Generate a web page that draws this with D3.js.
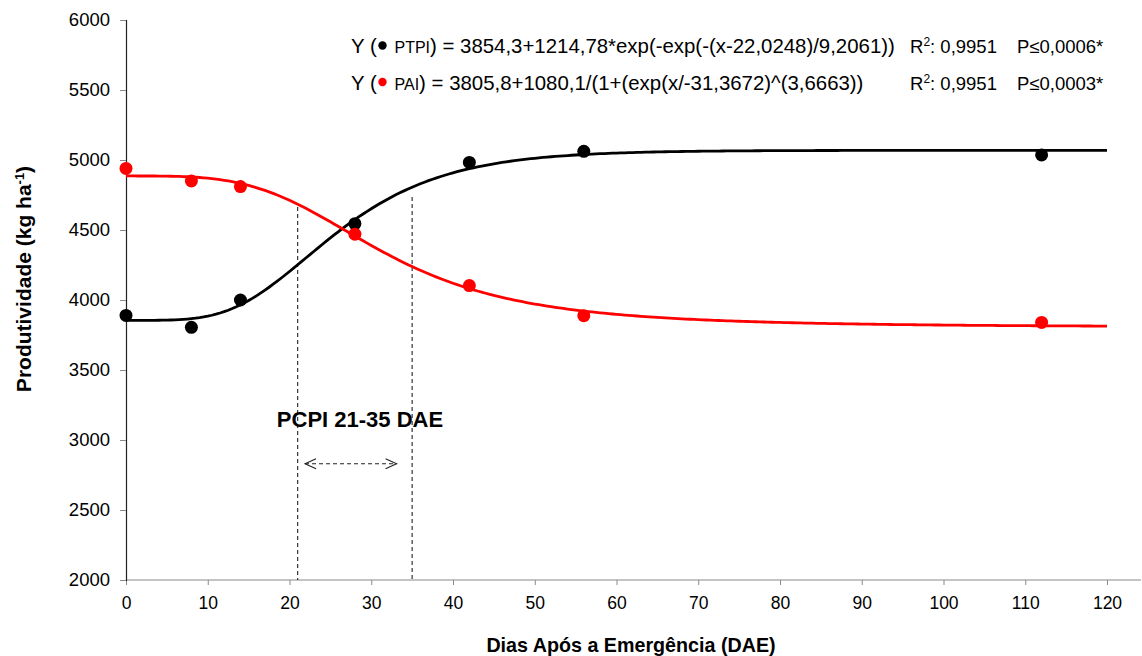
<!DOCTYPE html>
<html>
<head>
<meta charset="utf-8">
<script src="https://cdn.jsdelivr.net/npm/d3@7/dist/d3.min.js"></script>
<style>
  html, body { margin: 0; padding: 0; background: #fff; }
  svg { display: block; font-family: "Liberation Sans", Arial, sans-serif; }
</style>
</head>
<body>
<svg id="chart" width="1142" height="656"></svg>
<script>
// Observed yield (kg ha-1) per sampling day after emergence
const days = [0, 8, 14, 28, 42, 56, 112];
const ptpiYield = [3890, 3805, 4000, 4545, 4983, 5062, 5036];
const paiYield = [4940, 4850, 4810, 4470, 4103, 3888, 3840];

// Fitted model coefficients (as printed in the equations)
const ptpiFit = [3854.3, 1214.78, 22.0248, 9.2061];   // Gompertz: a + b*exp(-exp(-(x-x0)/c))
const paiFit = [3805.8, 1080.1, 31.3672, 3.6663];     // log-logistic: a + b/(1+(x/x0)^c)

// Critical period limits (DAE) and axis ticks
const pcpi = [21, 35];
const xTicks = [0, 10, 20, 30, 40, 50, 60, 70, 80, 90, 100, 110, 120];
const yTicks = [2000, 2500, 3000, 3500, 4000, 4500, 5000, 5500, 6000];

const svg = d3.select("#chart");
const x = d3.scaleLinear().domain([0, 120]).range([126, 1107]);
const y = d3.scaleLinear().domain([2000, 6000]).range([580, 20]);

const gompertz = (p, t) => p[0] + p[1] * Math.exp(-Math.exp(-(t - p[2]) / p[3]));
const logLogistic = (p, t) => p[0] + p[1] / (1 + Math.pow(t / p[2], p[3]));

// Axes
const xAxis = svg.append("g").attr("transform", `translate(0,${y(2000)})`)
  .call(d3.axisBottom(x).tickValues(xTicks).tickFormat(d3.format("d")).tickSize(5).tickPadding(12));
xAxis.select(".domain").remove();
xAxis.selectAll(".tick line").attr("stroke", "#8a8a8a");
xAxis.selectAll(".tick text").attr("font-size", 17.5).attr("fill", "#000")
  .attr("font-family", "Liberation Sans, Arial, sans-serif");
svg.append("line").attr("x1", x(0)).attr("x2", 1141)
  .attr("y1", y(2000)).attr("y2", y(2000)).attr("stroke", "#8a8a8a").attr("stroke-width", 1.2);

const yAxis = svg.append("g").attr("transform", `translate(${x(0)},0)`)
  .call(d3.axisLeft(y).tickValues(yTicks).tickFormat(d3.format("d")).tickSize(6).tickPadding(10));
yAxis.select(".domain").attr("stroke", "#222").attr("stroke-width", 1.2);
yAxis.selectAll(".tick line").attr("stroke", "#8a8a8a");
yAxis.selectAll(".tick text").attr("font-size", 18.5).attr("fill", "#000")
  .attr("font-family", "Liberation Sans, Arial, sans-serif");

// Critical period markers
const vTop = [4665, 4735];
pcpi.forEach((d, i) => {
  svg.append("line")
    .attr("x1", x(d)).attr("x2", x(d))
    .attr("y1", y(vTop[i])).attr("y2", y(2000))
    .attr("stroke", "#222").attr("stroke-width", 1.1).attr("stroke-dasharray", "4,3");
});

const arrowY = 2830, arrowL = 21.9, arrowR = 33.1;
svg.append("line")
  .attr("x1", x(arrowL)).attr("x2", x(arrowR))
  .attr("y1", y(arrowY)).attr("y2", y(arrowY))
  .attr("stroke", "#222").attr("stroke-width", 1.1).attr("stroke-dasharray", "4,3");
[[arrowL, 1], [arrowR, -1]].forEach(([d, dir]) => {
  const px = x(d), py = y(arrowY);
  svg.append("path")
    .attr("d", `M${px + dir * 11},${py - 5}L${px},${py}L${px + dir * 11},${py + 5}`)
    .attr("fill", "none").attr("stroke", "#222").attr("stroke-width", 1.1);
});

svg.append("text").attr("x", 360).attr("y", 427)
  .attr("text-anchor", "middle").attr("font-weight", "bold").attr("font-size", 22)
  .text("PCPI 21-35 DAE");

// Fitted curves
const grid = d3.range(0, 120.01, 0.5);
const line = d3.line().x(d => x(d[0])).y(d => y(d[1]));
svg.append("path").datum(grid.map(t => [t, gompertz(ptpiFit, t)]))
  .attr("d", line).attr("fill", "none").attr("stroke", "#000").attr("stroke-width", 2.8);
svg.append("path").datum(grid.map(t => [t, logLogistic(paiFit, t)]))
  .attr("d", line).attr("fill", "none").attr("stroke", "#ff0000").attr("stroke-width", 2.8);

// Observed points
svg.append("g").selectAll("circle").data(days).join("circle")
  .attr("cx", d => x(d)).attr("cy", (d, i) => y(ptpiYield[i])).attr("r", 6.5).attr("fill", "#000");
svg.append("g").selectAll("circle").data(days).join("circle")
  .attr("cx", d => x(d)).attr("cy", (d, i) => y(paiYield[i])).attr("r", 6.5).attr("fill", "#ff0000");

// Equations
const eqs = [
  { color: "#000", name: "PTPI", body: ") = 3854,3+1214,78*exp(-exp(-(x-22,0248)/9,2061))", p: "P≤0,0006*", yb: 53 },
  { color: "#ff0000", name: "PAI", body: ") = 3805,8+1080,1/(1+(exp(x/-31,3672)^(3,6663))", p: "P≤0,0003*", yb: 89.5 }
];
eqs.forEach(e => {
  svg.append("text").attr("x", 351).attr("y", e.yb).attr("font-size", 20.4).text("Y (");
  svg.append("circle").attr("cx", 382.5).attr("cy", e.yb - 7.5).attr("r", 4.2).attr("fill", e.color);
  const t = svg.append("text").attr("x", 394.5).attr("y", e.yb).attr("font-size", 20.4);
  t.append("tspan").attr("font-size", 16).text(e.name);
  t.append("tspan").text(e.body);
  const r = svg.append("text").attr("x", 910).attr("y", e.yb).attr("font-size", 18.5);
  r.append("tspan").text("R");
  r.append("tspan").attr("font-size", 12).attr("dy", -7).text("2");
  r.append("tspan").attr("dy", 7).text(": 0,9951");
  svg.append("text").attr("x", 1017).attr("y", e.yb).attr("font-size", 18.5).text(e.p);
});

// Axis titles
const yt = svg.append("text").attr("transform", "translate(31,279) rotate(-90)")
  .attr("text-anchor", "middle").attr("font-weight", "bold").attr("font-size", 21);
yt.append("tspan").text("Produtividade  (kg ha");
yt.append("tspan").attr("font-size", 13).attr("dy", -7).text("-1");
yt.append("tspan").attr("dy", 7).text(")");

svg.append("text").attr("x", 631).attr("y", 652).attr("text-anchor", "middle")
  .attr("font-weight", "bold").attr("font-size", 19.7)
  .text("Dias Após a Emergência (DAE)");
</script>
</body>
</html>
